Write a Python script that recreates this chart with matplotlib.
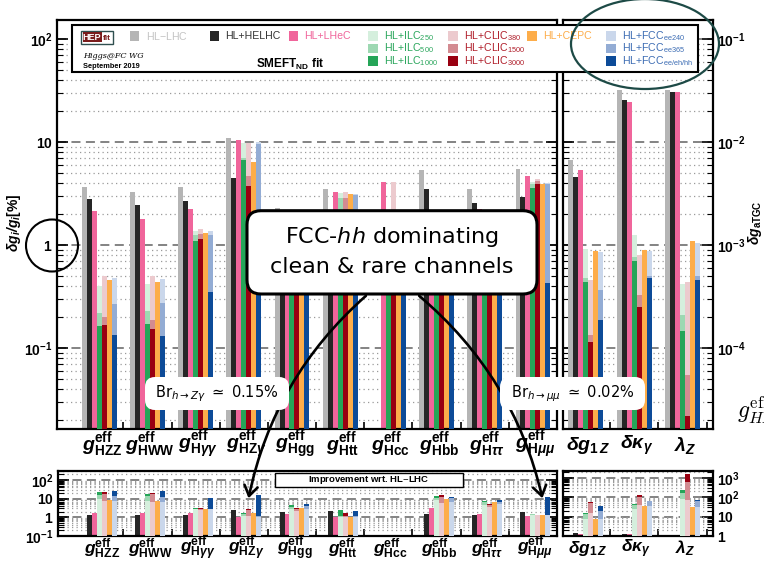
import numpy as np
import matplotlib
matplotlib.use('Agg')
import matplotlib.pyplot as plt
from matplotlib.patches import Rectangle, FancyBboxPatch, Ellipse, Circle, FancyArrowPatch
from matplotlib.transforms import Affine2D, blended_transform_factory
import matplotlib.ticker as mt

plt.rcParams['font.family'] = ['Liberation Sans', 'DejaVu Sans']
plt.rcParams['mathtext.fontset'] = 'custom'
plt.rcParams['mathtext.rm'] = 'Liberation Sans'
plt.rcParams['mathtext.it'] = 'Liberation Sans:italic'
plt.rcParams['mathtext.bf'] = 'Liberation Sans:bold'
try:
    plt.rcParams['mathtext.bfit'] = 'Liberation Sans:bold:italic'
except KeyError:
    pass

nan = np.nan
# ---------------- data: Higgs couplings, delta g / g [%] ----------------
higgs_labels = [r'$\mathbfit{g}^{\mathbf{eff}}_{\mathbf{HZZ}}$',
                r'$\mathbfit{g}^{\mathbf{eff}}_{\mathbf{HWW}}$',
                r'$\mathbfit{g}^{\mathbf{eff}}_{\mathbf{H}\mathbfit{\gamma\gamma}}$',
                r'$\mathbfit{g}^{\mathbf{eff}}_{\mathbf{HZ}\mathbfit{\gamma}}$',
                r'$\mathbfit{g}^{\mathbf{eff}}_{\mathbf{Hgg}}$',
                r'$\mathbfit{g}^{\mathbf{eff}}_{\mathbf{Htt}}$',
                r'$\mathbfit{g}^{\mathbf{eff}}_{\mathbf{Hcc}}$',
                r'$\mathbfit{g}^{\mathbf{eff}}_{\mathbf{Hbb}}$',
                r'$\mathbfit{g}^{\mathbf{eff}}_{\mathbf{H}\mathbfit{\tau\tau}}$',
                r'$\mathbfit{g}^{\mathbf{eff}}_{\mathbf{H}\mathbfit{\mu\mu}}$']
hl_lhc   = [3.68, 3.27, 3.68, 11.0, 2.32, 3.50, nan, 5.43, 3.50, 5.55]
he_lhc   = [2.84, 2.46, 2.69, 4.54, 1.16, 1.60, nan, 3.52, 2.60, 2.94]
lhec     = [2.14, 1.80, 2.25, 10.6, 1.55, 3.29, 4.12, 1.77, 2.25, 4.71]
ilc250   = [0.40, 0.42, 1.37, 9.8, 0.86, 3.22, 1.80, 0.63, 0.75, 4.12]
ilc500   = [0.22, 0.23, 1.25, 7.0, 0.63, 2.90, 1.20, 0.51, 0.55, 3.90]
ilc1000  = [0.164, 0.174, 1.10, 6.7, 0.50, 1.42, 0.90, 0.38, 0.44, 3.57]
clic380  = [0.50, 0.51, 1.44, 9.8, 1.00, 3.27, 4.12, 0.90, 1.00, 4.37]
clic1500 = [0.20, 0.19, 1.30, 4.7, 0.80, 2.90, 1.90, 0.45, 0.80, 4.20]
clic3000 = [0.167, 0.154, 1.16, 3.74, 0.70, 1.98, 1.40, 0.34, 0.67, 3.97]
cepc     = [0.457, 0.437, 1.32, 6.4, 0.70, 3.17, 1.80, 0.56, 0.56, 3.91]
fcc240   = [0.478, 0.47, 1.37, 10.0, 0.86, 3.17, 1.40, 0.78, 0.70, 4.03]
fcc365   = [0.27, 0.278, 1.27, 9.6, 0.57, 3.10, 1.20, 0.50, 0.55, 3.95]
fcchh    = [0.135, 0.133, 0.35, 0.67, 0.45, 1.60, 0.95, 0.42, 0.41, 0.43]

# ---------------- data: anomalous triple gauge couplings ----------------
tgc_labels = [r'$\mathbfit{\delta g}_{\mathbf{1}\,\mathbfit{Z}}$',
              r'$\mathbfit{\delta\kappa}_{\mathbfit{\gamma}}$',
              r'$\mathbfit{\lambda}_{\mathbfit{Z}}$']
tgc_hl_lhc   = [6.8e-3, 3.2e-2, 3.25e-2]
tgc_he_lhc   = [4.6e-3, 2.56e-2, 3.08e-2]
tgc_lhec     = [5.35e-3, 2.46e-2, 3.08e-2]
tgc_ilc250   = [9.3e-4, 1.25e-3, 4.2e-4]
tgc_ilc500   = [4.8e-4, 7.7e-4, 2.1e-4]
tgc_ilc1000  = [4.4e-4, 7.0e-4, 1.47e-4]
tgc_clic380  = [4.6e-4, 8.1e-4, 4.4e-4]
tgc_clic1500 = [1.34e-4, 3.3e-4, 5.5e-5]
tgc_clic3000 = [1.15e-4, 2.5e-4, 2.2e-5]
tgc_cepc     = [8.9e-4, 9.1e-4, 1.1e-3]
tgc_fcc240   = [8.6e-4, 8.8e-4, 1.05e-3]
tgc_fcc365   = [3.7e-4, 5.0e-4, 5.1e-4]
tgc_fcchh    = [1.87e-4, 4.8e-4, 4.6e-4]

# ---------------- style ----------------
C_GRAY, C_BLK, C_PINK, C_CEPC = '#b5b5b5', '#262626', '#f0659b', '#fdad4a'
C_ILC = ['#d5efdd', '#9dd8b2', '#25a558']
C_CLIC = ['#eccace', '#d38b91', '#990011']
C_FCC = ['#cad7eb', '#93acd4', '#0d4b98']

W, H = 764, 562
fig = plt.figure(figsize=(W / 100, H / 100), dpi=100)
fig.patch.set_facecolor('white')
PX = Affine2D().scale(0.01) + fig.dpi_scale_trans   # pixel coords (y up)


def P(x, y):
    return (x, H - y)


def rect(x0, y0, x1, y1):
    return [x0 / W, 1 - y1 / H, (x1 - x0) / W, (y1 - y0) / H]


ax_main = fig.add_axes(rect(57, 20, 557, 429.3))
ax_tgc = fig.add_axes(rect(562.5, 20, 713, 429.3))
ax_imp = fig.add_axes(rect(58, 470.7, 557, 536))
ax_imp_tgc = fig.add_axes(rect(563, 470.7, 713, 536))

bw = 5 / 48.5  # bar width in group units


def columns(d):
    return [[(d[0], C_GRAY)], [(d[1], C_BLK)], [(d[2], C_PINK)],
            [(d[3], C_ILC[0]), (d[4], C_ILC[1]), (d[5], C_ILC[2])],
            [(d[6], C_CLIC[0]), (d[7], C_CLIC[1]), (d[8], C_CLIC[2])],
            [(d[9], C_CEPC)],
            [(d[10], C_FCC[0]), (d[11], C_FCC[1]), (d[12], C_FCC[2])]]


higgs_sets = [hl_lhc, he_lhc, lhec, ilc250, ilc500, ilc1000, clic380, clic1500,
              clic3000, cepc, fcc240, fcc365, fcchh]
tgc_sets = [tgc_hl_lhc, tgc_he_lhc, tgc_lhec, tgc_ilc250, tgc_ilc500, tgc_ilc1000,
            tgc_clic380, tgc_clic1500, tgc_clic3000, tgc_cepc, tgc_fcc240,
            tgc_fcc365, tgc_fcchh]


def draw_abs(ax, sets, base):
    for j, col in enumerate(columns(sets)):
        for k, (vals, c) in enumerate(col):
            v = np.asarray(vals, float)
            x = np.arange(len(v)) + j * bw
            ax.bar(x, v - base, bottom=base, width=bw, align='edge', color=c,
                   lw=0, zorder=2 + k)


def draw_ratio(ax, sets, base):
    ref = np.asarray(sets[0], float)
    for j, col in enumerate(columns(sets)):
        if j == 0:
            continue
        for k, (vals, c) in enumerate(reversed(col)):
            r = ref / np.asarray(vals, float)
            x = np.arange(len(r)) + j * bw
            ax.bar(x, r - base, bottom=base, width=bw, align='edge', color=c,
                   lw=0, zorder=2 + k)


draw_abs(ax_main, higgs_sets, 1e-4)
draw_abs(ax_tgc, tgc_sets, 1e-8)
draw_ratio(ax_imp, higgs_sets, 0.01)
draw_ratio(ax_imp_tgc, tgc_sets, 0.1)


def style_axis(ax, xlim, ylim, ticks, labels, side):
    ax.set_yscale('log')
    ax.set_xlim(*xlim)
    ax.set_ylim(*ylim)
    ax.yaxis.set_major_locator(mt.FixedLocator(ticks))
    ax.yaxis.set_major_formatter(mt.FixedFormatter(labels))
    ax.yaxis.set_minor_locator(mt.LogLocator(base=10, subs=np.arange(2, 10), numticks=50))
    ax.yaxis.set_minor_formatter(mt.NullFormatter())
    ax.grid(True, which='major', axis='y', color='#7a7a7a', lw=1.3, ls=(0, (5, 3)))
    ax.grid(True, which='minor', axis='y', color='#9a9a9a', lw=0.9, ls=(0, (1, 2.6)))
    ax.set_axisbelow(True)
    ax.tick_params(axis='y', which='both', direction='in', left=True, right=True,
                   labelleft=(side == 'left'), labelright=(side == 'right'),
                   labelsize=10, pad=3)
    ax.tick_params(axis='y', which='major', length=8, width=1.2)
    ax.tick_params(axis='y', which='minor', length=4, width=0.8)
    n = int(round(xlim[1]))
    ax.set_xticks(np.arange(n) + (7 * bw + 1) / 2)
    ax.set_xticklabels([])
    ax.tick_params(axis='x', direction='in', length=5, width=1.2, top=False)
    for s in ax.spines.values():
        s.set_linewidth(1.6)


style_axis(ax_main, (-25 / 48.5, 475 / 48.5), (0.0164, 154), [0.1, 1, 10, 100],
           [r'$\mathbf{10^{-1}}$', r'$\mathbf{1}$', r'$\mathbf{10}$', r'$\mathbf{10^{2}}$'], 'left')
style_axis(ax_tgc, (-5.5 / 48.5, 145 / 48.5), (0.0164e-3, 154e-3), [1e-4, 1e-3, 1e-2, 1e-1],
           [r'$\mathbf{10^{-4}}$', r'$\mathbf{10^{-3}}$', r'$\mathbf{10^{-2}}$', r'$\mathbf{10^{-1}}$'], 'right')
style_axis(ax_imp, (-24 / 48.5, 475 / 48.5), (0.1, 316), [0.1, 1, 10, 100],
           [r'$\mathbf{10^{-1}}$', r'$\mathbf{1}$', r'$\mathbf{10}$', r'$\mathbf{10^{2}}$'], 'left')
style_axis(ax_imp_tgc, (-5 / 48.5, 145 / 48.5), (1, 2300), [1, 10, 100, 1000],
           [r'$\mathbf{1}$', r'$\mathbf{10}$', r'$\mathbf{10^{2}}$', r'$\mathbf{10^{3}}$'], 'right')

# category labels
for ax, labs, yl, fs in [(ax_main, higgs_labels, 445, 14), (ax_imp, higgs_labels, 548.5, 12.5),
                         (ax_tgc, tgc_labels, 445, 14), (ax_imp_tgc, tgc_labels, 548.5, 12.5)]:
    tr = blended_transform_factory(ax.transData, PX)
    for i, lab in enumerate(labs):
        ax.text(i + 3.5 * bw + 0.05, H - yl, lab, transform=tr, ha='center', va='center',
                fontsize=fs, clip_on=False)

# axis titles
fig.text(14 / W, 1 - 223 / H, r'$\mathbfit{\delta g_i/g_i}$' + r'$\mathbf{[\%]}$',
         rotation=90, ha='center', va='center', fontsize=10)
fig.text(755 / W, 1 - 223 / H, r'$\mathbfit{\delta g}_{\mathbf{aTGC}}$',
         rotation=90, ha='center', va='center', fontsize=10)
fig.text(737 / W, 1 - 418 / H, r'$g^{\rm eff}_{HX}$', fontsize=17, ha='left',
         va='baseline', math_fontfamily='cm')

# ---------------- legend (drawn) ----------------
fig.add_artist(Rectangle(P(71.5, 72), 626, 47, transform=PX, fc='white', ec='black',
                         lw=1.5, zorder=3))
rows = [36, 48.5, 61]
legend_items = [
    (129.5, 0, r'HL$-$LHC', C_GRAY, '#c4c4c4'),
    (209.5, 0, 'HL+HELHC', C_BLK, '#333333'),
    (288.5, 0, 'HL+LHeC', C_PINK, '#f0659b'),
    (368, 0, r'HL+ILC$_{250}$', C_ILC[0], '#2aa65c'),
    (368, 1, r'HL+ILC$_{500}$', C_ILC[1], '#2aa65c'),
    (368, 2, r'HL+ILC$_{1000}$', C_ILC[2], '#2aa65c'),
    (448, 0, r'HL+CLIC$_{380}$', C_CLIC[0], '#b01e2a'),
    (448, 1, r'HL+CLIC$_{1500}$', C_CLIC[1], '#b01e2a'),
    (448, 2, r'HL+CLIC$_{3000}$', C_CLIC[2], '#b01e2a'),
    (527, 0, 'HL+CEPC', C_CEPC, '#fdad4a'),
    (606, 0, r'HL+FCC$_{\mathrm{ee240}}$', C_FCC[0], '#3d6db4'),
    (606, 1, r'HL+FCC$_{\mathrm{ee365}}$', C_FCC[1], '#3d6db4'),
    (606, 2, r'HL+FCC$_{\mathrm{ee/eh/hh}}$', C_FCC[2], '#3d6db4'),
]
for x, r, lab, c, tc in legend_items:
    y = rows[r]
    fig.add_artist(Rectangle(P(x, y + 4.5), 9.5, 9.5, transform=PX, fc=c, ec='none', zorder=4))
    fig.text(x + 16, H - y, lab, transform=PX, color=tc, fontsize=7.6, ha='left',
             va='center', zorder=4)

# HEPfit logo and credits
fig.add_artist(Rectangle(P(81, 43.5), 32, 12.8, transform=PX, fc='white', ec='#2f4f4f',
                         lw=1.0, zorder=4))
fig.add_artist(Rectangle(P(82.5, 42.3), 19, 10.4, transform=PX, fc='#7a1c1c', ec='none', zorder=4))
fig.text(92, H - 37.3, 'HEP', transform=PX, color='white', fontsize=6.5, weight='bold',
         ha='center', va='center', zorder=5)
fig.text(107.3, H - 38.3, 'fit', transform=PX, color='#7a1c1c', fontsize=6, weight='bold',
         ha='center', va='center', zorder=5)
fig.text(83, H - 55.5, 'Higgs@FC WG', transform=PX, fontsize=5.8, style='italic',
         family='DejaVu Serif', ha='left', va='center', zorder=5)
fig.text(83, H - 66, 'September 2019', transform=PX, fontsize=5.3, weight='bold',
         ha='left', va='center', zorder=5)
fig.text(290, H - 64, r'$\mathbf{SMEFT_{ND}}$ fit', transform=PX, fontsize=8.5,
         weight='bold', ha='center', va='center', zorder=5)

# "Improvement wrt. HL-LHC" tag
fig.add_artist(Rectangle(P(275, 486.7), 188.3, 13.4, transform=PX, fc='white', ec='black',
                         lw=1.0, zorder=4))
fig.text(369, H - 480, r'Improvement wrt. HL$-$LHC', transform=PX, fontsize=6.8,
         weight='bold', ha='center', va='center', zorder=5)

# ---------------- annotations ----------------
arrow_kw = dict(transform=PX, arrowstyle='->,head_length=0.45,head_width=0.3',
                mutation_scale=16, lw=1.9, color='black', zorder=6)
fig.add_artist(FancyArrowPatch(P(368, 294), P(248, 501), connectionstyle='arc3,rad=0.17',
                               **arrow_kw))
fig.add_artist(FancyArrowPatch(P(417, 294), P(543, 501), connectionstyle='arc3,rad=-0.17',
                               **arrow_kw))

for (x0, y0, x1, y1, txt) in [(145, 377, 289, 410, r'Br$_{h\to Z\gamma}$ $\simeq$ 0.15%'),
                              (500, 377, 645, 410, r'Br$_{h\to \mu\mu}$ $\simeq$ 0.02%')]:
    fig.add_artist(FancyBboxPatch(P(x0, y1), x1 - x0, y1 - y0, transform=PX,
                                  boxstyle='round,pad=0,rounding_size=10', fc='white',
                                  ec='none', zorder=7))
    fig.text((x0 + x1) / 2, H - (y0 + y1) / 2, txt, transform=PX, fontsize=10.5,
             family='DejaVu Sans', math_fontfamily='dejavusans', ha='center',
             va='center', zorder=8)

fig.add_artist(FancyBboxPatch(P(247, 294), 290, 83.3, transform=PX,
                              boxstyle='round,pad=0,rounding_size=14', fc='white',
                              ec='black', lw=2.2, zorder=9))
fig.text(392, H - 251, 'FCC-$hh$ dominating\nclean & rare channels', transform=PX,
         fontsize=16, family='DejaVu Sans', math_fontfamily='dejavusans',
         ha='center', va='center', linespacing=1.45, zorder=10)

fig.add_artist(Ellipse(P(645, 44), 148, 90, transform=PX, fc='none', ec='#1d4a46',
                       lw=1.6, zorder=11))
fig.add_artist(Circle(P(52, 245.5), 26, transform=PX, fc='none', ec='black',
                      lw=1.5, zorder=11))

fig.savefig('out.png', dpi=100, facecolor='white')
